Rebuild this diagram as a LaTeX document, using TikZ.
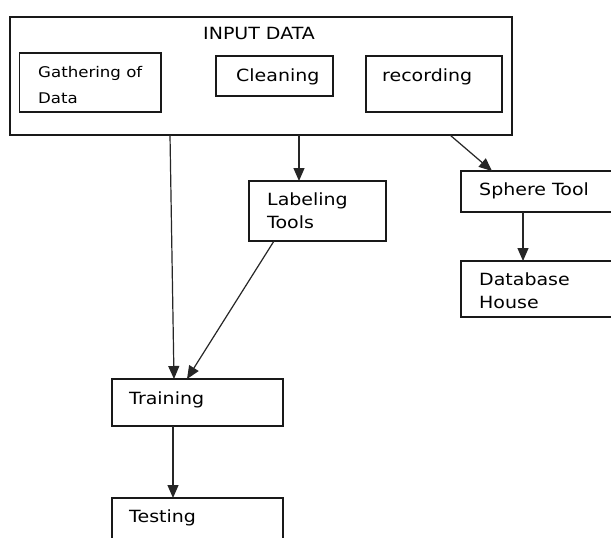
\documentclass[tikz,border=0pt]{standalone}
\usepackage{fontspec}
\setmainfont{DejaVu Sans}[FakeStretch=1.13]
\usetikzlibrary{arrows.meta,calc}

\tikzset{
  box/.style={draw=black!90, line width=1.2pt, rectangle, inner sep=0pt, outer sep=0pt, anchor=north west},
  lbl/.style={inner sep=0pt, anchor=base west, text=black, font=\fontsize{16.8}{20}\selectfont},
  small/.style={lbl, font=\fontsize{14.7}{18}\selectfont},
  arr/.style={draw=black!85, line width=1.2pt, -{Triangle[length=13pt,width=11pt]}}
}

\begin{document}
\begin{tikzpicture}[x=1pt,y=-1pt]
  \useasboundingbox (0,0) rectangle (611,538);
  \fill[white] (0,0) rectangle (611,538);
  \clip (0,0) rectangle (611,538);

  % input stage with its three sub-steps
  \node[box, minimum width=502pt, minimum height=118pt] (outer) at (10,17) {};
  \node[lbl] (tin) at (203,39.5) {INPUT DATA};
  \node[box, minimum width=141.5pt, minimum height=59pt] (gather) at (19.5,53) {};
  \node[small] (tg1) at (38,77) {Gathering of};
  \node[small] (tg2) at (38,103) {Data};
  \node[box, minimum width=117pt, minimum height=40pt] (clean) at (216,56) {};
  \node[lbl] (tc) at (236,81.5) {Cleaning};
  \node[box, minimum width=136pt, minimum height=56pt] (record) at (366,56) {};
  \node[lbl] (tr) at (382,81) {recording};

  % tools
  \node[box, minimum width=137pt, minimum height=60pt] (label) at (249,181) {};
  \node[lbl] (tl1) at (267,205) {Labeling};
  \node[lbl] (tl2) at (267,228) {Tools};

  \node[box, minimum width=170pt, minimum height=41pt] (sphere) at (461,171) {};
  \node[lbl] (ts) at (479,195) {Sphere Tool};
  \node[box, minimum width=170pt, minimum height=56pt] (db) at (461,261) {};
  \node[lbl] (td1) at (479,285) {Database};
  \node[lbl] (td2) at (479,308) {House};

  % model stages
  \node[box, minimum width=171pt, minimum height=47pt] (train) at (112,379) {};
  \node[lbl] (tt) at (129,404) {Training};
  \node[box, minimum width=171pt, minimum height=60pt] (test) at (112,498) {};
  \node[lbl] (te) at (129,522) {Testing};

  % connectors
  \draw[arr] ($(outer.south west)+(160,0)$) -- ($(train.north west)+(62,0)$);
  \draw[arr] ($(outer.south west)+(289,0)$) -- ($(label.north west)+(50,0)$);
  \draw[arr] ($(label.south west)+(25,0)$) -- ($(train.north west)+(75,0)$);
  \draw[arr] ($(outer.south west)+(440,0)$) -- ($(sphere.north west)+(31,0)$);
  \draw[arr] ($(sphere.south west)+(62,0)$) -- ($(db.north west)+(62,0)$);
  \draw[arr] ($(train.south west)+(61,0)$) -- ($(test.north west)+(61,0)$);
\end{tikzpicture}
\end{document}
